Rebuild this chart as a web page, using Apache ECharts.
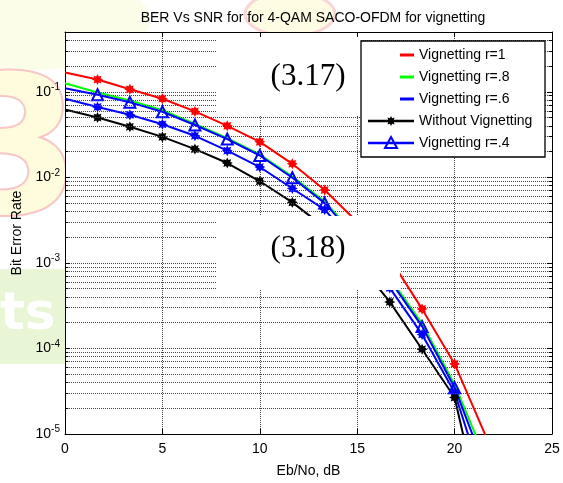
<!DOCTYPE html>
<html><head><meta charset="utf-8">
<script src="https://cdn.jsdelivr.net/npm/echarts@6/dist/echarts.min.js"></script>
<style>html,body{margin:0;padding:0;background:#fff}#c{width:563px;height:483px}</style>
</head><body><div id="c"></div>
<script>
// ---- data ----
const snr = [0, 1.67, 3.33, 5, 6.67, 8.33, 10, 11.67, 13.33, 15, 16.67, 18.33, 20, 21.67];
const berR1 = [0.168, 0.139, 0.107, 0.083, 0.059, 0.040, 0.026, 0.0144, 0.0071, 0.0030, 0.00113, 0.00029, 0.000066, 0.0000087];
const berR08 = [0.126, 0.098, 0.079, 0.061, 0.042, 0.0288, 0.0185, 0.0102, 0.0052, 0.0020, 0.00067, 0.000195, 0.000038, 0.0000046];
const berR06 = [0.083, 0.0665, 0.0538, 0.0417, 0.0306, 0.0205, 0.0132, 0.0074, 0.0042, 0.00155, 0.00051, 0.000146, 0.0000305, 0.000002];
const berNone = [0.062, 0.050, 0.039, 0.0297, 0.0214, 0.0147, 0.0090, 0.0051, 0.0026, 0.00105, 0.00035, 0.000098, 0.0000267, 0.0000006];
const berR04 = [0.110, 0.0923, 0.0753, 0.0584, 0.0409, 0.028, 0.018, 0.0099, 0.0050, 0.0019, 0.00063, 0.000181, 0.0000348, 0.0000035];
const seriesNames = ['Vignetting r=1', 'Vignetting r=.8', 'Vignetting r=.6', 'Without Vignetting', 'Vignetting r=.4'];
const xTicks = [0, 5, 10, 15, 20, 25];
const yMin = 1e-5, yMax = 0.5;
const titleText = 'BER Vs SNR for for 4-QAM SACO-OFDM for vignetting';

// ---- helpers ----
const FONT = 'Liberation Sans, Arial, sans-serif';
function starPts(cx, cy, R, ri) {
  const p = [];
  for (let k = 0; k < 16; k++) {
    const a = k * Math.PI / 8 - Math.PI / 2;
    const r = (k % 2 === 0) ? R : R * ri;
    p.push([cx + r * Math.cos(a), cy + r * Math.sin(a)]);
  }
  return p;
}
const starPath = 'path://' + starPts(50, 50, 50, 0.6).map((q, i) => (i ? 'L' : 'M') + q[0].toFixed(2) + ' ' + q[1].toFixed(2)).join(' ') + ' Z';

function mkData(arr) {
  return snr.map((x, i) => i === 0 ? { value: [x, arr[i]], symbol: 'none' } : [x, arr[i]]);
}

// minor grid values (2..9 x 10^k)
const minorVals = [];
for (let e = -5; e <= -1; e++) {
  for (let m = 2; m <= 9; m++) {
    const v = m * Math.pow(10, e);
    if (v < yMax - 1e-9) minorVals.push(v);
  }
}
const gridLineStyle = { color: '#444', type: [1, 1], width: 1 };
const mlData = [];
minorVals.forEach(v => {
  mlData.push([{ coord: [0, v], lineStyle: gridLineStyle }, { coord: [25, v] }]);
  mlData.push([{ coord: [0, v], lineStyle: { color: '#000', type: 'solid', width: 1 } }, { coord: [0.17, v] }]);
  mlData.push([{ coord: [24.83, v], lineStyle: { color: '#000', type: 'solid', width: 1 } }, { coord: [25, v] }]);
});

const chart = echarts.init(document.getElementById('c'), null, { renderer: 'canvas' });

const baseLine = (name, arr, color, sym, size, extra) => Object.assign({
  name, type: 'line', data: mkData(arr), clip: true, z: 3,
  symbol: sym, symbolSize: size, showSymbol: true,
  lineStyle: { color, width: 2 },
  itemStyle: { color },
  emphasis: { disabled: true }
}, extra || {});

// legend graphic
const LX = 361, LY = 41, LW = 184, LH = 116;
const rows = [55, 77, 99, 121, 143];
const legColors = ['#ff0000', '#00ff00', '#0000ff', '#000000', '#0000ff'];
const legendEls = [
  { type: 'rect', shape: { x: LX, y: LY, width: LW, height: LH }, style: { fill: '#fff', stroke: '#000', lineWidth: 1.3 }, z: 100 }
];
rows.forEach((y, i) => {
  const x1 = i < 3 ? 400 : 368;
  legendEls.push({ type: 'line', shape: { x1: x1, y1: y, x2: 414, y2: y }, style: { stroke: legColors[i], lineWidth: i < 3 ? 3 : 2.5 }, z: 101 });
  legendEls.push({ type: 'text', x: 419, y: y, style: { text: seriesNames[i], font: '14px ' + FONT, fill: '#000', textVerticalAlign: 'middle', verticalAlign: 'middle' }, z: 101 });
});
legendEls.push({ type: 'polygon', shape: { points: starPts(391, rows[3], 5, 0.6) }, style: { fill: '#000' }, z: 102 });
legendEls.push({ type: 'polygon', shape: { points: [[391, rows[4] - 6], [397, rows[4] + 5], [385, rows[4] + 5]] }, style: { fill: 'none', stroke: '#0000ff', lineWidth: 2 }, z: 102 });

const watermark = [
  { type: 'ellipse', shape: { cx: 30, cy: 20, rx: 120, ry: 50 }, style: { fill: '#fcfde9' }, z: -20 },
  { type: 'text', x: -52, y: 68, style: { text: '3', font: 'bold 190px DejaVu Sans', fill: '#fefcdc', stroke: '#f8c6c6', lineWidth: 4 }, z: -19 },
  { type: 'ellipse', shape: { cx: 290, cy: 14, rx: 45, ry: 22 }, style: { fill: '#fefce2', stroke: '#fad6d6', lineWidth: 3 }, z: -19 },
  { type: 'rect', shape: { x: 0, y: 269, width: 66, height: 95 }, style: { fill: '#e8f6d6' }, z: -18 },
  { type: 'text', x: 0, y: 315, style: { text: 'ts', font: 'bold 52px DejaVu Sans', fill: '#ffffff', verticalAlign: 'middle', textVerticalAlign: 'middle' }, z: -17 }
];

const boxes = [
  { type: 'rect', shape: { x: 217, y: 38, width: 144, height: 78 }, style: { fill: '#fff' }, z: 90 },
  { type: 'text', x: 308, y: 77, style: { text: '(3.17)', font: '31px Liberation Serif, Times New Roman, serif', fill: '#000', align: 'center', verticalAlign: 'middle', textAlign: 'center', textVerticalAlign: 'middle' }, z: 91 },
  { type: 'rect', shape: { x: 217, y: 216, width: 183, height: 74 }, style: { fill: '#fff' }, z: 90 },
  { type: 'text', x: 308, y: 249, style: { text: '(3.18)', font: '31px Liberation Serif, Times New Roman, serif', fill: '#000', align: 'center', verticalAlign: 'middle', textAlign: 'center', textVerticalAlign: 'middle' }, z: 91 }
];

const yLabelFmt = v => {
  const e = Math.log10(v);
  const r = Math.round(e);
  if (Math.abs(e - r) > 1e-6) return '';
  return '{b|10}{s|' + r + '}';
};

chart.setOption({
  animation: false,
  backgroundColor: 'transparent',
  title: { text: titleText, left: 308, top: 6, textAlign: 'center', textStyle: { fontSize: 14, fontWeight: 'normal', color: '#000', fontFamily: FONT } },
  grid: { left: 65, right: 11, top: 32, bottom: 44, show: true, backgroundColor: '#fff', borderWidth: 0, z: 0 },
  xAxis: [
    {
      type: 'value', min: 0, max: 25, interval: 5, position: 'bottom',
      name: 'Eb/No, dB', nameLocation: 'middle', nameGap: 30,
      nameTextStyle: { fontSize: 14, color: '#000', fontFamily: FONT },
      axisLine: { show: true, onZero: false, lineStyle: { color: '#000', width: 1 } },
      axisTick: { show: true, inside: true, length: 5, lineStyle: { color: '#000' } },
      axisLabel: { color: '#000', fontSize: 14, fontFamily: FONT, margin: 8, formatter: v => xTicks.indexOf(v) >= 0 ? String(v) : '' },
      splitLine: { show: true, lineStyle: gridLineStyle }
    },
    {
      type: 'value', min: 0, max: 25, interval: 5, position: 'top',
      axisLine: { show: true, onZero: false, lineStyle: { color: '#000', width: 1 } },
      axisTick: { show: true, inside: true, length: 5, lineStyle: { color: '#000' } },
      axisLabel: { show: false }, splitLine: { show: false }
    }
  ],
  yAxis: [
    {
      type: 'log', logBase: 10, min: yMin, max: yMax, splitNumber: 5, position: 'left',
      name: 'Bit Error Rate', nameLocation: 'middle', nameGap: 36,
      nameTextStyle: { fontSize: 14, color: '#000', fontFamily: FONT },
      axisLine: { show: true, onZero: false, lineStyle: { color: '#000', width: 1 } },
      axisTick: { show: true, inside: true, length: 5, lineStyle: { color: '#000' } },
      axisLabel: {
        color: '#000', margin: 5, formatter: yLabelFmt,
        rich: {
          b: { fontSize: 14, fontFamily: FONT, color: '#000' },
          s: { fontSize: 10, fontFamily: FONT, color: '#000', verticalAlign: 'top', padding: [0, 0, 9, 0] }
        }
      },
      splitLine: { show: true, lineStyle: gridLineStyle },
      minorTick: { show: false }, minorSplitLine: { show: false }
    },
    {
      type: 'log', logBase: 10, min: yMin, max: yMax, splitNumber: 5, position: 'right',
      axisLine: { show: true, onZero: false, lineStyle: { color: '#000', width: 1 } },
      axisTick: { show: true, inside: true, length: 5, lineStyle: { color: '#000' } },
      axisLabel: { show: false }, splitLine: { show: false }
    }
  ],
  graphic: { elements: watermark.concat(boxes, legendEls) },
  series: [
    {
      name: 'minor-grid', type: 'line', data: [], z: 1, silent: true,
      markLine: { silent: true, symbol: ['none', 'none'], label: { show: false }, animation: false, emphasis: { disabled: true }, data: mlData }
    },
    baseLine(seriesNames[0], berR1, '#ff0000', starPath, 11),
    baseLine(seriesNames[1], berR08, '#00ff00', 'none', 1),
    baseLine(seriesNames[2], berR06, '#0000ff', starPath, 11),
    baseLine(seriesNames[3], berNone, '#000000', starPath, 11),
    baseLine(seriesNames[4], berR04, '#0000ff', 'triangle', 11, {
      itemStyle: { color: 'rgba(0,0,0,0)', borderColor: '#0000ff', borderWidth: 2 }
    })
  ]
});
</script></body></html>
